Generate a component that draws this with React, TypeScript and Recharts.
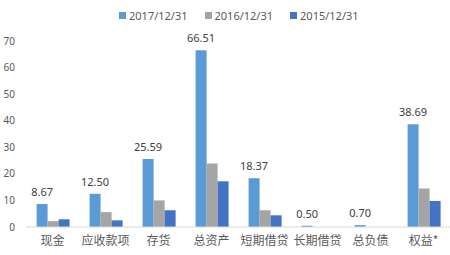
import React from 'react';
import { BarChart, Bar, XAxis, YAxis, Legend, LabelList } from 'recharts';

const categories = ['现金', '应收款项', '存货', '总资产', '短期借贷', '长期借贷', '总负债', '权益*'];
const s2017 = [8.67, 12.5, 25.59, 66.51, 18.37, 0.5, 0.7, 38.69];
const s2016 = [2.2, 5.6, 10.0, 23.9, 6.3, 0, 0, 14.5];
const s2015 = [2.9, 2.5, 6.3, 17.2, 4.4, 0, 0, 9.8];
const yTicks = [0, 10, 20, 30, 40, 50, 60, 70];

const seriesNames = ['2017/12/31', '2016/12/31', '2015/12/31'];
const colors = ['#5B9BD5', '#A5A5A5', '#4472C4'];

const data = categories.map((name, i) => ({
  name,
  a: s2017[i],
  b: s2016[i],
  c: s2015[i],
}));

const numFont = '"Noto Sans", sans-serif';
const cjkFont = '"Noto Sans CJK SC", sans-serif';

const LegendContent = () => (
  <div style={{ display: 'flex', height: 20, alignItems: 'center', paddingLeft: 119, fontFamily: numFont, fontSize: 11, color: '#595959' }}>
    {seriesNames.map((n, i) => (
      <div key={n} style={{ display: 'flex', alignItems: 'center', marginRight: i < 2 ? 17 : 0 }}>
        <div style={{ width: 7, height: 7, background: colors[i], marginRight: 3 }} />
        <span>{n}</span>
      </div>
    ))}
  </div>
);

export default function App() {
  return (
    <div style={{ position: 'absolute', left: 0, top: 0, width: 450, height: 255, background: '#fff' }}>
      <BarChart
        width={450}
        height={255}
        data={data}
        margin={{ top: 21, right: 0, bottom: 0, left: 0 }}
        barCategoryGap="20%"
        barGap={0}
      >
        <Legend verticalAlign="top" content={<LegendContent />} wrapperStyle={{ top: 5, left: 0 }} />
        <XAxis
          dataKey="name"
          axisLine={{ stroke: '#D9D9D9' }}
          tickLine={false}
          tickSize={0}
          tickMargin={9}
          height={28}
          interval={0}
          tick={{ fontSize: 12, fill: '#595959', fontFamily: cjkFont }}
        />
        <YAxis
          width={26}
          domain={[0, 70]}
          ticks={yTicks}
          axisLine={false}
          tickLine={false}
          tickSize={0}
          tickMargin={11}
          tick={{ fontSize: 10, fill: '#595959', fontFamily: numFont }}
        />
        <Bar dataKey="a" name={seriesNames[0]} fill={colors[0]} isAnimationActive={false}>
          <LabelList
            dataKey="a"
            position="top"
            offset={8}
            formatter={(v: any) => Number(v).toFixed(2)}
            style={{ fontSize: 11, fill: '#404040', fontFamily: numFont }}
          />
        </Bar>
        <Bar dataKey="b" name={seriesNames[1]} fill={colors[1]} isAnimationActive={false} />
        <Bar dataKey="c" name={seriesNames[2]} fill={colors[2]} isAnimationActive={false} />
      </BarChart>
    </div>
  );
}
